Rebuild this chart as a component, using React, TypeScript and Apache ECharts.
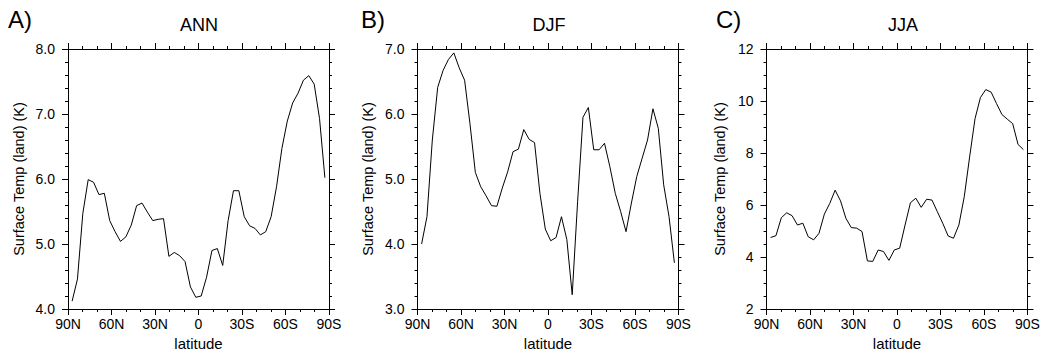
import React, { useEffect, useRef } from "react";
import * as echarts from "echarts";

// Gaussian latitudes (deg, + = North)
const LAT = [
  87.16, 83.48, 79.78, 76.07, 72.36, 68.65, 64.94, 61.23, 57.52, 53.81,
  50.09, 46.38, 42.67, 38.96, 35.25, 31.54, 27.83, 24.12, 20.41, 16.7,
  12.99, 9.28, 5.57, 1.86, -1.86, -5.57, -9.28, -12.99, -16.7, -20.41,
  -24.12, -27.83, -31.54, -35.25, -38.96, -42.67, -46.38, -50.09, -53.81, -57.52,
  -61.23, -64.94, -68.65, -72.36, -76.07, -79.78, -83.48, -87.16,
];

const ANN = [
  4.12, 4.46, 5.47, 5.99, 5.95, 5.76, 5.78, 5.36, 5.19, 5.04,
  5.11, 5.29, 5.59, 5.63, 5.49, 5.36, 5.38, 5.39, 4.81, 4.87,
  4.82, 4.73, 4.34, 4.18, 4.2, 4.49, 4.9, 4.93, 4.67, 5.36,
  5.82, 5.82, 5.42, 5.28, 5.24, 5.14, 5.19, 5.42, 5.88, 6.47,
  6.89, 7.17, 7.32, 7.52, 7.59, 7.46, 6.93, 6.02,
];

const DJF = [
  4.0, 4.42, 5.6, 6.41, 6.67, 6.84, 6.94, 6.71, 6.52, 5.85,
  5.1, 4.88, 4.74, 4.59, 4.58, 4.86, 5.11, 5.42, 5.46, 5.76,
  5.61, 5.56, 4.78, 4.23, 4.05, 4.1, 4.42, 4.07, 3.22, 4.65,
  5.95, 6.1, 5.45, 5.45, 5.55, 5.19, 4.78, 4.5, 4.19, 4.63,
  5.04, 5.32, 5.6, 6.08, 5.78, 4.91, 4.42, 3.71,
];

const JJA = [
  4.75, 4.82, 5.51, 5.7, 5.59, 5.23, 5.3, 4.78, 4.66, 4.91,
  5.65, 6.06, 6.57, 6.16, 5.49, 5.13, 5.11, 4.98, 3.85, 3.83,
  4.27, 4.21, 3.87, 4.27, 4.34, 5.23, 6.09, 6.26, 5.91, 6.22,
  6.19, 5.74, 5.3, 4.81, 4.72, 5.23, 6.32, 7.85, 9.32, 10.13,
  10.44, 10.34, 9.9, 9.48, 9.3, 9.13, 8.33, 8.13,
];

const PANEL_LETTERS = ["A)", "B)", "C)"];
const PANEL_TITLES = ["ANN", "DJF", "JJA"];
const Y_NAME = "Surface Temp (land) (K)";
const X_NAME = "latitude";

const PANELS = [
  { values: ANN, min: 4, max: 8, interval: 1, minorSplit: 5, decimals: 1 },
  { values: DJF, min: 3, max: 7, interval: 1, minorSplit: 5, decimals: 1 },
  { values: JJA, min: 2, max: 12, interval: 2, minorSplit: 4, decimals: 0 },
];

const FONT = "'Liberation Sans', Arial, Helvetica, sans-serif";
const GRID_LEFT = [68, 417.5, 766.5];
const GRID_W = 261;
const GRID_TOP = 49;
const GRID_H = 260;
const LETTER_X = [8, 361, 716];
const TITLE_X = [199, 549, 903];
const YNAME_GAP = [42, 42, 39];

function latLabel(v: number) {
  if (v > 0) return `${v}N`;
  if (v < 0) return `${-v}S`;
  return "0";
}

export default function App() {
  const ref = useRef<HTMLDivElement>(null);

  useEffect(() => {
    document.body.style.margin = "0";
    if (!ref.current) return;
    const chart = echarts.init(ref.current, undefined, { renderer: "svg" });

    const lineStyle = { color: "#000", width: 1 };
    const grids: any[] = [];
    const xAxes: any[] = [];
    const yAxes: any[] = [];
    const series: any[] = [];
    const graphics: any[] = [];

    PANELS.forEach((p, k) => {
      grids.push({
        left: GRID_LEFT[k],
        top: GRID_TOP,
        width: GRID_W,
        height: GRID_H,
        containLabel: false,
        outerBoundsMode: "none",
      });
      const xBase = {
        type: "value",
        gridIndex: k,
        min: -90,
        max: 90,
        interval: 30,
        inverse: true,
        splitLine: { show: false },
        axisLine: { show: true, onZero: false, lineStyle },
        axisTick: { show: true, length: 6, lineStyle },
        minorTick: { show: true, splitNumber: 3, length: 3, lineStyle },
        minorSplitLine: { show: false },
      };
      xAxes.push({
        ...xBase,
        position: "bottom",
        name: X_NAME,
        nameLocation: "middle",
        nameGap: 21,
        nameTextStyle: { color: "#000", fontSize: 15, fontFamily: FONT },
        axisLabel: {
          show: true,
          margin: 8,
          color: "#000",
          fontSize: 14,
          fontFamily: FONT,
          formatter: latLabel,
        },
      });
      xAxes.push({
        ...xBase,
        position: "top",
        axisLabel: { show: false },
      });
      const yBase = {
        type: "value",
        gridIndex: k,
        min: p.min,
        max: p.max,
        interval: p.interval,
        splitLine: { show: false },
        axisLine: { show: true, onZero: false, lineStyle },
        axisTick: { show: true, length: 6, lineStyle },
        minorTick: { show: true, splitNumber: p.minorSplit, length: 3, lineStyle },
        minorSplitLine: { show: false },
      };
      yAxes.push({
        ...yBase,
        position: "left",
        name: Y_NAME,
        nameLocation: "middle",
        nameGap: YNAME_GAP[k],
        nameTextStyle: { color: "#000", fontSize: 14.5, fontFamily: FONT },
        axisLabel: {
          show: true,
          margin: 13,
          color: "#000",
          fontSize: 14,
          fontFamily: FONT,
          formatter: (v: number) => v.toFixed(p.decimals),
        },
      });
      yAxes.push({
        ...yBase,
        position: "right",
        axisLabel: { show: false },
      });
      series.push({
        type: "line",
        xAxisIndex: 2 * k,
        yAxisIndex: 2 * k,
        data: LAT.map((lat, i) => [lat, p.values[i]]),
        showSymbol: false,
        symbol: "none",
        lineStyle: { color: "#000", width: 1 },
        silent: true,
      });
      graphics.push({
        type: "text",
        x: LETTER_X[k],
        y: 19,
        style: {
          text: PANEL_LETTERS[k],
          fill: "#000",
          fontSize: 24,
          fontFamily: FONT,
          align: "left",
          verticalAlign: "middle",
        },
      });
      graphics.push({
        type: "text",
        x: TITLE_X[k],
        y: 24.5,
        style: {
          text: PANEL_TITLES[k],
          fill: "#000",
          fontSize: 18,
          fontFamily: FONT,
          align: "center",
          verticalAlign: "middle",
        },
      });
    });

    chart.setOption({
      animation: false,
      backgroundColor: "#fff",
      grid: grids,
      xAxis: xAxes,
      yAxis: yAxes,
      series,
      graphic: graphics,
    });

    return () => {
      chart.dispose();
    };
  }, []);

  return (
    <div
      ref={ref}
      style={{ position: "absolute", left: 0, top: 0, width: 1044, height: 353 }}
    />
  );
}
